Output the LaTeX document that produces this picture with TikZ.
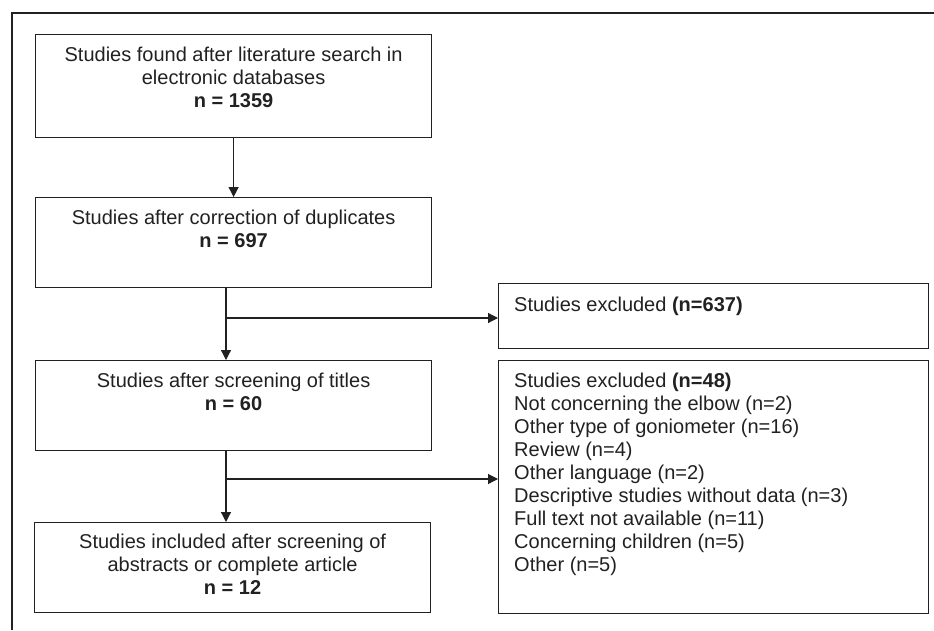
\documentclass[tikz,border=0pt]{standalone}
\usepackage{fontspec}
\setmainfont{Liberation Sans}
\usepackage{xcolor}
\usepackage{tikz}
\usetikzlibrary{arrows.meta,positioning}

\definecolor{inkgray}{rgb}{0.13,0.13,0.13}

\tikzset{
    stagebox/.style={draw=inkgray, line width=1.2pt, inner sep=0pt, anchor=north west, minimum width=396pt},
    sidebox/.style={draw=inkgray, line width=1.2pt, inner sep=0pt, anchor=north west, minimum width=430pt},
    stagetext/.style={inner sep=0pt, align=center, text=inkgray, font=\fontsize{20}{23}\selectfont},
    sidetext/.style={inner sep=0pt, align=left, text=inkgray, font=\fontsize{20}{23}\selectfont},
    flow/.style={draw=inkgray, line width=1.2pt, -{Triangle[length=10pt,width=10pt]}}
}

\begin{document}
\begin{tikzpicture}[x=1pt, y=-1pt]
    \useasboundingbox (0,0) rectangle (934,630);
    % Frame
    \draw[inkgray, line width=2pt] (12,630) -- (12,13) -- (934,13);
    % Stages
    \node[stagebox, minimum height=103pt] (found)  at (35,34)  {};
    \node[stagebox, minimum height=90pt]  (dupl)   at (35,197) {};
    \node[stagebox, minimum height=90pt]  (titles) at (35,360) {};
    \node[stagebox, minimum height=90pt]  (incl)   at (34,522) {};
    % Exclusions
    \node[sidebox, minimum height=65pt]  (excl1) at (498,283) {};
    \node[sidebox, minimum height=253pt] (excl2) at (498,360) {};
    % Texts
    \node[stagetext, below=13pt of found.north] (found-t)
        {Studies found after literature search in\\electronic databases\\\textbf{n = 1359}};
    \node[stagetext, below=13pt of dupl.north] (dupl-t)
        {Studies after correction of duplicates\\\textbf{n = 697}};
    \node[stagetext, below=13pt of titles.north] (titles-t)
        {Studies after screening of titles\\\textbf{n = 60}};
    \node[stagetext, below=12pt of incl.north] (incl-t)
        {Studies included after screening of\\abstracts or complete article\\\textbf{n = 12}};
    \node[sidetext, below right=14pt and 16pt of excl1.north west] (excl1-t)
        {Studies excluded \textbf{(n=637)}};
    \node[sidetext, below right=13pt and 16pt of excl2.north west] (excl2-t)
        {Studies excluded \textbf{(n=48)}\\
         Not concerning the elbow (n=2)\\
         Other type of goniometer (n=16)\\
         Review (n=4)\\
         Other language (n=2)\\
         Descriptive studies without data (n=3)\\
         Full text not available (n=11)\\
         Concerning children (n=5)\\
         Other (n=5)};
    % Edges
    \coordinate (fork1) at (226,318);
    \coordinate (fork2) at (226,479);
    \draw[flow] (found) -- (dupl);
    % duplicates to titles, branch to excluded
    \draw[flow] (dupl.south -| fork1) -- (titles.north -| fork1);
    \draw[flow] (fork1) -- (fork1 -| excl1.west);
    % titles to included, branch to excluded
    \draw[flow] (titles.south -| fork2) -- (incl.north -| fork2);
    \draw[flow] (fork2) -- (fork2 -| excl2.west);
\end{tikzpicture}
\end{document}
